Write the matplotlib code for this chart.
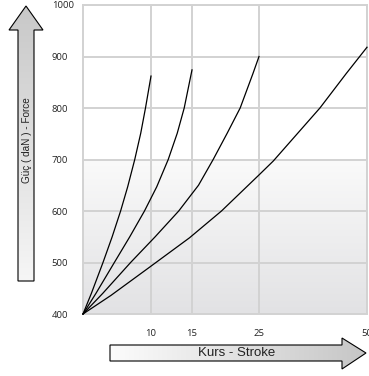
import numpy as np
import matplotlib
matplotlib.use('Agg')
import matplotlib.pyplot as plt
from matplotlib.patches import Polygon

# data
stroke_ticks = [10, 15, 25, 50]
force_ticks = [400, 500, 600, 700, 800, 900, 1000]

curve_10_stroke = [0, 1.23, 2.94, 4.29, 5.53, 6.57, 7.61, 8.49, 9.19, 10]
curve_10_force = [400, 440, 500, 550, 600, 647, 700, 751, 800, 862]

curve_15_stroke = [0, 1.90, 4.61, 6.88, 9.04, 10.7, 12.1, 13.2, 14.05, 15]
curve_15_force = [400, 440, 500, 550, 600, 647, 700, 751, 800, 874]

curve_25_stroke = [0, 2.9, 7.0, 10.51, 13.38, 15.97, 18.16, 20.25, 22.19, 24.1, 25]
curve_25_force = [400, 440, 500, 550, 600, 650, 700, 751, 800, 867, 900]

curve_50_stroke = [0, 4.1, 9.8, 14.7, 19.4, 25, 28.3, 39.1, 45.2, 50]
curve_50_force = [400, 436, 491, 548, 600, 670, 697, 800, 867, 918]

y_label = 'Güç ( daN ) - Force'
x_label = 'Kurs - Stroke'

# the stroke axis is not evenly spaced in the drawing
scale_stroke = [0, 10, 15, 25, 50]
scale_pos = [0, 68, 109, 176, 284]
def fwd(x): return np.interp(x, scale_stroke, scale_pos)
def inv(p): return np.interp(p, scale_pos, scale_stroke)

W, H = 369, 376
fig = plt.figure(figsize=(W/100, H/100), dpi=100)
plt.rcParams.update({'font.family': ['Liberation Sans', 'DejaVu Sans']})

# background layer in pixel coords: arrows and gradient
bg = fig.add_axes([0, 0, 1, 1], zorder=0)
bg.set_xlim(0, W)
bg.set_ylim(H, 0)
bg.axis('off')

grad = np.linspace(0, 1, 256).reshape(-1, 1)
c_top = np.array([250, 250, 250]) / 255.
c_bot = np.array([226, 226, 228]) / 255.
img = c_top + grad[..., None] * (c_bot - c_top)
bg.imshow(img, extent=[83, 367, 314, 159], aspect='auto', zorder=0)

# vertical arrow
up_pts = [(18, 281), (18, 30), (9, 30), (26, 6), (43, 30), (34, 30), (34, 281)]
up = Polygon(up_pts, closed=True, facecolor='none', edgecolor='black', lw=0.8, zorder=3)
bg.add_patch(up)
g = np.linspace(0, 1, 256).reshape(-1, 1)
a = np.array([200, 200, 200]) / 255.
b = np.array([246, 246, 246]) / 255.
im = bg.imshow(a + g[..., None] * (b - a), extent=[9, 43, 281, 6], aspect='auto', zorder=2)
im.set_clip_path(up)

# horizontal arrow
rt_pts = [(110, 345), (342, 345), (342, 338), (366, 353), (342, 369), (342, 361), (110, 361)]
rt = Polygon(rt_pts, closed=True, facecolor='none', edgecolor='black', lw=0.8, zorder=3)
bg.add_patch(rt)
g = np.linspace(0, 1, 256).reshape(1, -1)
a = np.array([252, 252, 252]) / 255.
b = np.array([198, 198, 198]) / 255.
im = bg.imshow(a + g[..., None] * (b - a), extent=[110, 366, 369, 338], aspect='auto', zorder=2)
im.set_clip_path(rt)

bg.text(27, 140, y_label, rotation=90, ha='center', va='center', fontsize=7.2, color='#222222')
bg.text(237, 353, x_label, ha='center', va='center', fontsize=9.5, color='#222222')

# main chart
ax = fig.add_axes([83/W, 62/H, 284/W, 309/H], zorder=1)
ax.set_facecolor('none')
ax.set_xscale('function', functions=(fwd, inv))
ax.set_xlim(0, 50)
ax.set_ylim(400, 1000)

for s, f in [(curve_10_stroke, curve_10_force), (curve_15_stroke, curve_15_force),
             (curve_25_stroke, curve_25_force), (curve_50_stroke, curve_50_force)]:
  ax.plot(s, f, color='black', lw=0.9, zorder=3, clip_on=False)

ax.set_xticks(stroke_ticks)
ax.set_xticklabels([str(v) for v in stroke_ticks])
ax.set_yticks(force_ticks)
ax.set_yticklabels([str(v) for v in force_ticks])
ax.grid(True, color='#d2d2d2', lw=1.4)
ax.set_axisbelow(True)
for sp in ax.spines.values():
  sp.set_color('#d2d2d2')
  sp.set_linewidth(1.4)
ax.tick_params(length=0, labelsize=6.8, colors='#222222')
ax.tick_params(axis='x', pad=11)
ax.tick_params(axis='y', pad=22.5)
for lab in ax.get_yticklabels():
  lab.set_horizontalalignment('left')
  lab.set_fontfamily(['Open Sans', 'DejaVu Sans'])
for lab in ax.get_xticklabels():
  lab.set_fontfamily(['Open Sans', 'DejaVu Sans'])

plt.savefig('out.png', dpi=100)
